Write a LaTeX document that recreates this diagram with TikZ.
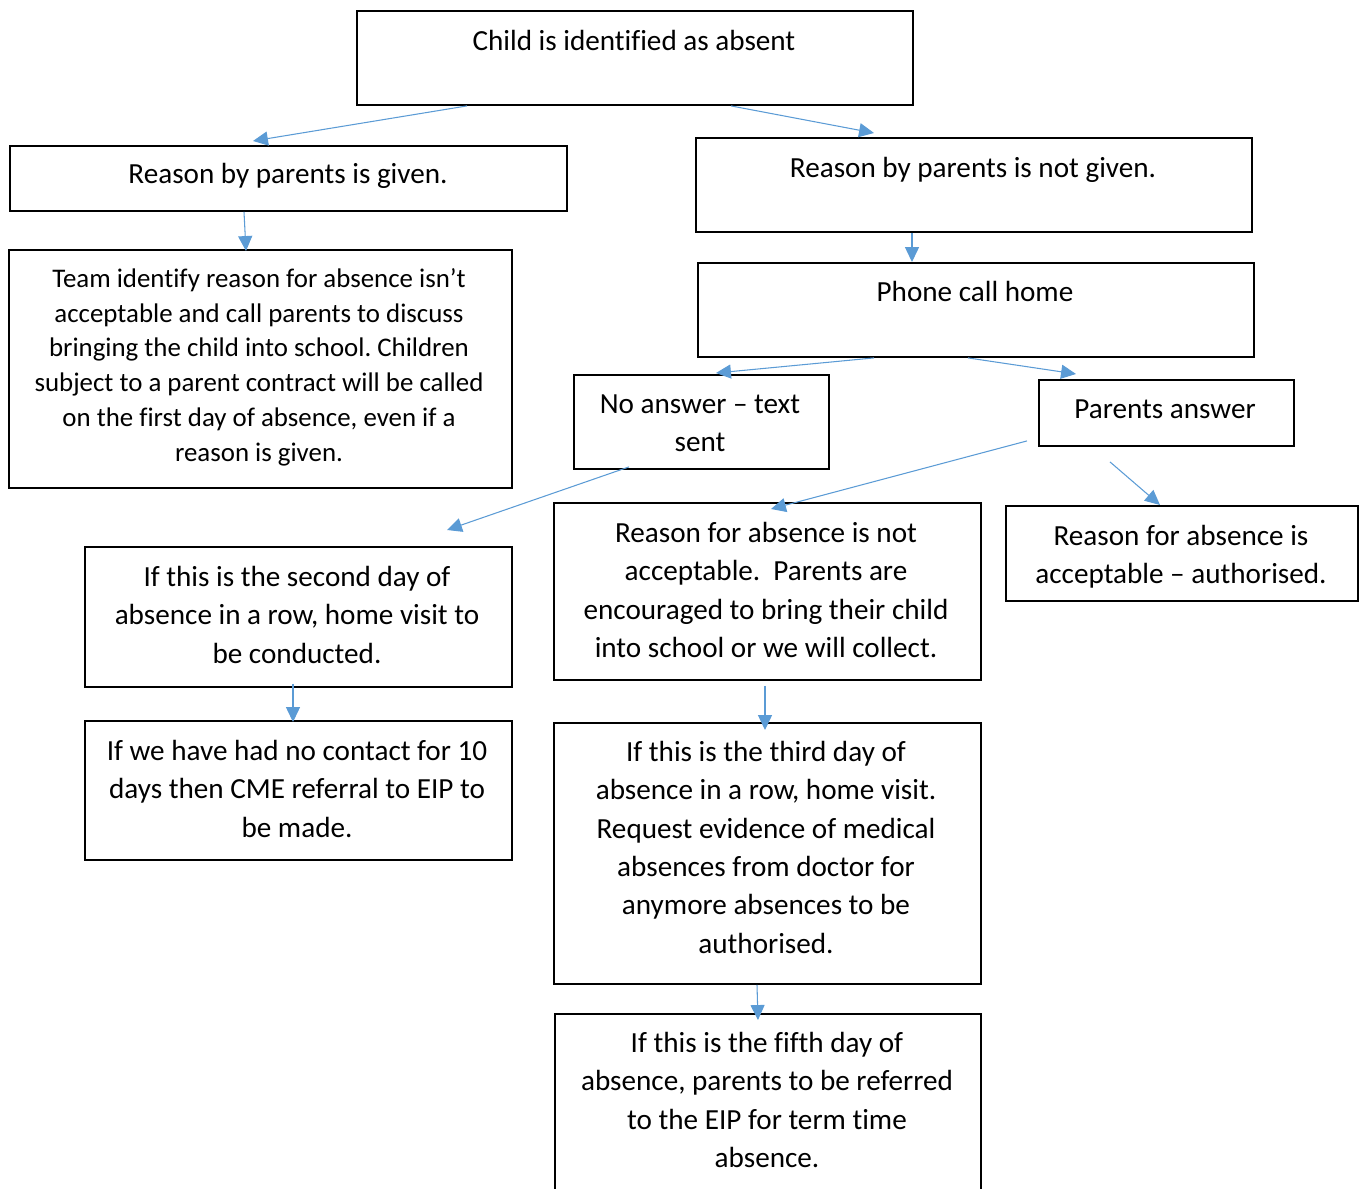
\documentclass[tikz,border=0pt]{standalone}
\usepackage{fontspec}
\setmainfont{Carlito}[Ligatures=NoCommon]
\usetikzlibrary{calc}
\usetikzlibrary{arrows.meta}
\definecolor{arrowblue}{HTML}{5B9BD5}
\frenchspacing
\tikzstyle{box} = [draw, line width=1.1pt, anchor=north west, inner sep=0pt]
\tikzstyle{txt} = [anchor=north, align=center, inner sep=0pt, font=\fontsize{16.6}{21.8}\selectfont, execute at begin node=\strut]
\tikzstyle{smalltxt} = [txt, font=\fontsize{15.3}{19.8}\selectfont]
\tikzstyle{arrow} = [-{Triangle[length=8.5pt,width=8pt]}, arrowblue, line width=0.6pt]

\begin{document}
\begin{tikzpicture}[x=0.02cm, y=-0.02cm]
                        \useasboundingbox (0,0) rectangle (1360,1189);
                        \clip (0,0) rectangle (1360,1189);

                        % boxes
                        \node[box, minimum width=11.12cm, minimum height=1.88cm](child) at (356,10) {};
                        \node[box, minimum width=11.14cm, minimum height=1.30cm](given) at (9,145) {};
                        \node[box, minimum width=11.12cm, minimum height=1.88cm](notgiven) at (695,137) {};
                        \node[box, minimum width=10.06cm, minimum height=4.76cm](team) at (8,249) {};
                        \node[box, minimum width=11.12cm, minimum height=1.88cm](phone) at (697,262) {};
                        \node[box, minimum width=5.10cm, minimum height=1.88cm](noanswer) at (573,374) {};
                        \node[box, minimum width=5.10cm, minimum height=1.32cm](answer) at (1038,379) {};
                        \node[box, minimum width=8.54cm, minimum height=2.80cm](second) at (84,546) {};
                        \node[box, minimum width=8.54cm, minimum height=3.54cm](notok) at (553,502) {};
                        \node[box, minimum width=7.04cm, minimum height=1.90cm](ok) at (1005,505) {};
                        \node[box, minimum width=8.54cm, minimum height=2.78cm](nocontact) at (84,720) {};
                        \node[box, minimum width=8.54cm, minimum height=5.22cm](third) at (553,722) {};
                        \node[box, minimum width=8.52cm, minimum height=4.20cm](fifth) at (554,1013) {};

                        % texts
                        \node[txt](childtxt) at (634,23) {Child is identified as absent};
                        \node[txt](giventxt) at (288,156) {Reason by parents is given.};
                        \node[txt](notgiventxt) at (973,150) {Reason by parents is not given.};
                        \node[smalltxt](teamtxt) at (259,268) {Team identify reason for absence isn’t\\acceptable and call parents to discuss\\bringing the child into school. Children\\subject to a parent contract will be called\\on the first day of absence, even if a\\reason is given.};
                        \node[txt](phonetxt) at (975,274) {Phone call home};
                        \node[txt](noanswertxt) at (700,394) {No answer – text\\sent};
                        \node[txt](answertxt) at (1165,391) {Parents answer};
                        \node[txt](secondtxt) at (297,566) {If this is the second day of\\absence in a row, home visit to\\be conducted.};
                        \node[txt](notoktxt) at (766,522) {Reason for absence is not\\acceptable.~ Parents are\\encouraged to bring their child\\into school or we will collect.};
                        \node[txt](oktxt) at (1181,525) {Reason for absence is\\acceptable – authorised.};
                        \node[txt](nocontacttxt) at (297,740) {If we have had no contact for 10\\days then CME referral to EIP to\\be made.};
                        \node[txt](thirdtxt) at (766,741) {If this is the third day of\\absence in a row, home visit.\\Request evidence of medical\\absences from doctor for\\anymore absences to be\\authorised.};
                        \node[txt](fifthtxt) at (767,1032) {If this is the fifth day of\\absence, parents to be referred\\to the EIP for term time\\absence.};

                        % arrows
                        \draw[arrow]($(child.south west)+(111,0)$) -- ($(given.north west)+(244,-4)$);
                        \draw[arrow]($(child.south west)+(375,0)$) -- ($(notgiven.north west)+(179,-4)$);
                        \draw[arrow]($(given.south west)+(235,0)$) -- ($(team.north west)+(238,2)$);
                        \draw[arrow]($(notgiven.south west)+(217,0)$) -- ($(phone.north west)+(215,0)$);
                        \draw[arrow]($(phone.south west)+(177,0)$) -- ($(noanswer.north west)+(143,-1)$);
                        \draw[arrow]($(phone.south west)+(271,0)$) -- ($(answer.north west)+(38,-5)$);
                        \draw[arrow]($(noanswer.south west)+(56,-3)$) -- ($(second.north west)+(363,-16)$);
                        \draw[arrow]($(answer.south west)+(-11,-6)$) -- ($(notok.north west)+(218,7)$);
                        \draw[arrow]($(answer.south west)+(72,15)$) -- ($(ok.north west)+(155,0)$);
                        \draw[arrow]($(second.south west)+(209,-4)$) -- ($(nocontact.north west)+(209,2)$);
                        \draw[arrow]($(notok.south west)+(212,5)$) -- ($(third.north west)+(212,8)$);
                        \draw[arrow]($(third.south west)+(204,0)$) -- ($(fifth.north west)+(204,7)$);
                    \end{tikzpicture}
\end{document}
